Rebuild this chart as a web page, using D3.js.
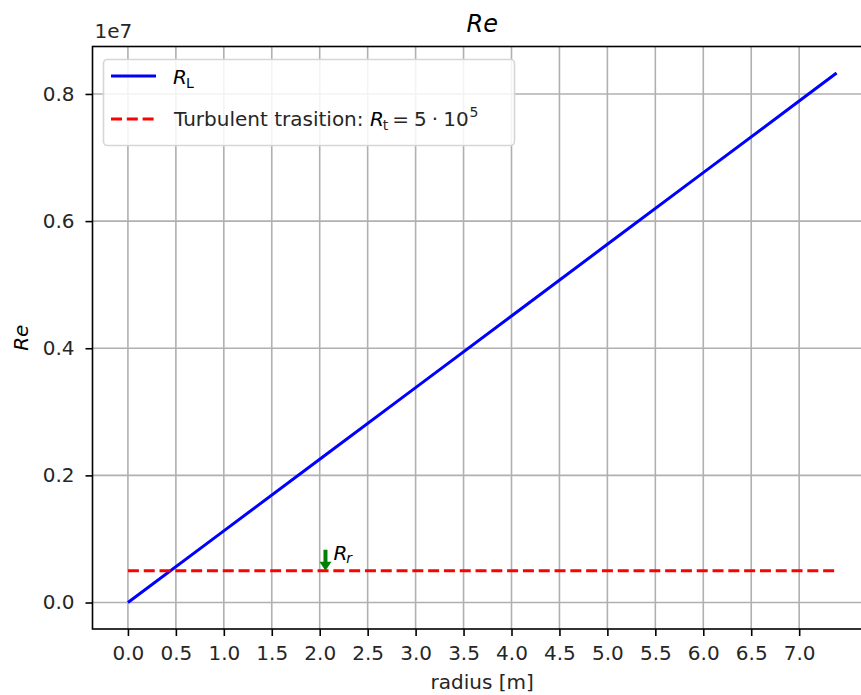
<!DOCTYPE html>
<html>
<head>
<meta charset="utf-8">
<script src="https://cdn.jsdelivr.net/npm/d3@7"></script>
<style>
  body { margin: 0; background: #fff; }
  svg { font-family: "DejaVu Sans", sans-serif; }
</style>
</head>
<body>
<svg id="chart" width="861" height="695"></svg>
<script>
// Reynolds number along the radius
const radius = [0, 1, 2, 3, 4, 5, 6, 7, 7.39];
const reynolds = [0, 1.127e6, 2.254e6, 3.381e6, 4.508e6, 5.635e6, 6.762e6, 7.889e6, 8.33e6];
const turbulentRe = 5e5;
const annotR = 2.06;
const xTicks = [0, 0.5, 1, 1.5, 2, 2.5, 3, 3.5, 4, 4.5, 5, 5.5, 6, 6.5, 7];
const yTicks = [0, 2e6, 4e6, 6e6, 8e6];

const svg = d3.select('#chart');
const box = { left: 92.5, top: 46.5, right: 872, bottom: 629 };
const fs = 20;

// matplotlib style 5% margins
const xPad = (d3.max(radius) - d3.min(radius)) * 0.05;
const yPad = (d3.max(reynolds) - d3.min(reynolds)) * 0.05;
const x = d3.scaleLinear()
    .domain([d3.min(radius) - xPad, d3.max(radius) + xPad])
    .range([box.left, box.right]);
const y = d3.scaleLinear()
    .domain([d3.min(reynolds) - yPad, d3.max(reynolds) + yPad])
    .range([box.bottom, box.top]);

// grid
const grid = svg.append('g').attr('stroke', '#b0b0b0').attr('stroke-width', 1.6);
xTicks.forEach(t => {
    grid.append('line')
        .attr('x1', x(t)).attr('x2', x(t))
        .attr('y1', box.top).attr('y2', box.bottom);
});
yTicks.forEach(t => {
    grid.append('line')
        .attr('x1', box.left).attr('x2', box.right)
        .attr('y1', y(t)).attr('y2', y(t));
});

// axes
const xAxis = d3.axisBottom(x).tickValues(xTicks).tickSize(7).tickPadding(10)
    .tickFormat(d3.format('.1f'));
const yAxis = d3.axisLeft(y).tickValues(yTicks).tickSize(7).tickPadding(11)
    .tickFormat(d => d3.format('.1f')(d / 1e7));

const gx = svg.append('g').attr('transform', `translate(0,${box.bottom})`).call(xAxis);
const gy = svg.append('g').attr('transform', `translate(${box.left},0)`).call(yAxis);
[gx, gy].forEach(g => {
    g.select('.domain').remove();
    g.selectAll('.tick line').attr('stroke', '#000').attr('stroke-width', 1.6);
    g.selectAll('.tick text').attr('font-size', fs).attr('fill', '#262626')
        .attr('font-family', '"DejaVu Sans", sans-serif');
});

// spines
svg.append('rect')
    .attr('x', box.left).attr('y', box.top)
    .attr('width', box.right - box.left).attr('height', box.bottom - box.top)
    .attr('fill', 'none').attr('stroke', '#000').attr('stroke-width', 1.6);

// data lines
const line = d3.line().x((d, i) => x(radius[i])).y(d => y(d));
svg.append('path')
    .datum(reynolds)
    .attr('d', line)
    .attr('fill', 'none').attr('stroke', '#0000ff').attr('stroke-width', 3);

svg.append('line')
    .attr('x1', x(d3.min(radius))).attr('x2', x(d3.max(radius)))
    .attr('y1', y(turbulentRe)).attr('y2', y(turbulentRe))
    .attr('stroke', '#ff0000').attr('stroke-width', 3)
    .attr('stroke-dasharray', '11,4.8');

// annotation arrow
const ax = x(annotR), ay = y(turbulentRe);
svg.append('line')
    .attr('x1', ax).attr('x2', ax)
    .attr('y1', ay - 21).attr('y2', ay - 7)
    .attr('stroke', 'green').attr('stroke-width', 4);
svg.append('path')
    .attr('d', `M${ax - 6},${ay - 9} L${ax + 6},${ay - 9} L${ax},${ay} Z`)
    .attr('fill', 'green');
const ann = svg.append('text')
    .attr('x', ax + 8).attr('y', ay - 11)
    .attr('font-size', fs);
ann.append('tspan').attr('font-style', 'italic').text('R');
ann.append('tspan').attr('font-style', 'italic').attr('font-size', 14).attr('dx', -1).attr('dy', 3).text('r');

// title and labels
svg.append('text')
    .attr('x', (box.left + box.right) / 2).attr('y', 32)
    .attr('text-anchor', 'middle').attr('font-size', 24)
    .attr('font-style', 'italic').text('Re');
svg.append('text')
    .attr('x', (box.left + box.right) / 2).attr('y', 689)
    .attr('text-anchor', 'middle').attr('font-size', fs)
    .attr('fill', '#262626').text('radius [m]');
svg.append('text')
    .attr('transform', `translate(28,${(box.top + box.bottom) / 2}) rotate(-90)`)
    .attr('text-anchor', 'middle').attr('font-size', fs)
    .attr('font-style', 'italic').text('Re');
svg.append('text')
    .attr('x', box.left + 2).attr('y', 38)
    .attr('font-size', fs).attr('fill', '#262626').text('1e7');

// legend
const legend = svg.append('g');
legend.append('rect')
    .attr('x', 103.5).attr('y', 59.5).attr('width', 411).attr('height', 86).attr('rx', 4)
    .attr('fill', '#fff').attr('fill-opacity', 0.85)
    .attr('stroke', '#d6d6d6').attr('stroke-width', 1.6);
legend.append('line')
    .attr('x1', 111).attr('x2', 156).attr('y1', 76).attr('y2', 76)
    .attr('stroke', '#0000ff').attr('stroke-width', 3);
legend.append('line')
    .attr('x1', 111).attr('x2', 156).attr('y1', 119).attr('y2', 119)
    .attr('stroke', '#ff0000').attr('stroke-width', 3)
    .attr('stroke-dasharray', '11,4.8');

const l1 = legend.append('text').attr('x', 173).attr('y', 84).attr('font-size', fs);
l1.append('tspan').attr('font-style', 'italic').text('R');
l1.append('tspan').attr('font-size', 14).attr('dx', -1).attr('dy', 4).text('L');

const l2 = legend.append('text').attr('x', 174).attr('y', 126).attr('font-size', fs).attr('fill', '#262626');
l2.append('tspan').text('Turbulent trasition: ');
l2.append('tspan').attr('font-style', 'italic').attr('fill', '#000').text('R');
l2.append('tspan').attr('font-size', 14).attr('dx', -1).attr('dy', 4).text('t');
l2.append('tspan').attr('dx', 4).attr('dy', -4).text('=');
l2.append('tspan').attr('dx', 5).text('5');
l2.append('tspan').attr('dx', 5).text('·');
l2.append('tspan').attr('dx', 5).text('10');
l2.append('tspan').attr('font-size', 14).attr('dx', 1).attr('dy', -9).text('5');
</script>
</body>
</html>
